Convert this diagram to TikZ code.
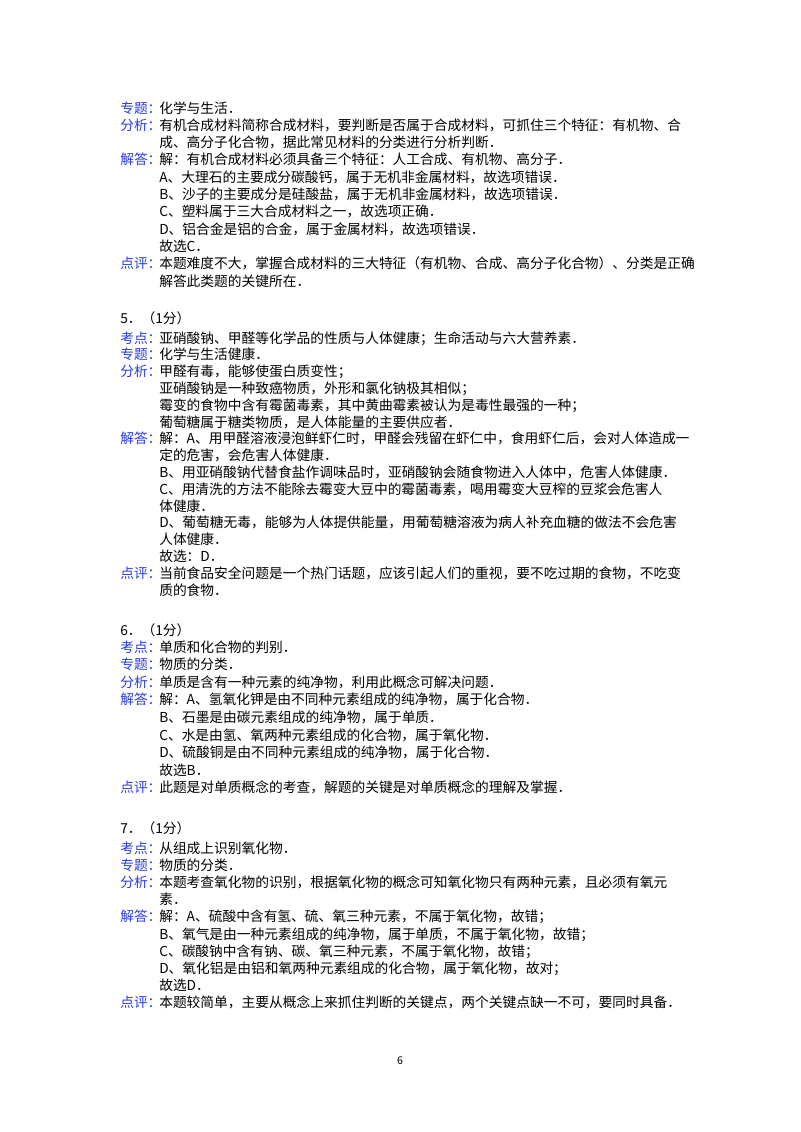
\documentclass[tikz,border=0pt]{standalone}
\usepackage{fontspec}
\setmainfont{Noto Sans CJK SC}
\begin{document}
\begin{tikzpicture}[x=0.75pt,y=-0.75pt,
  ln/.style={anchor=base west,inner sep=0pt,font=\fontsize{10.3}{12}\selectfont},
  lb/.style={ln,text={rgb,255:red,40;green,60;blue,230}}]
\useasboundingbox (0,0) rectangle (800,1132);
% block 4
\node[lb] (a1) at (120,113) {专题：};
\node[ln] (a1t) at (159,113) {化学与生活．};
\node[lb] (a2) at (120,130.3) {分析：};
\node[ln] (a2t) at (159,130.3) {有机合成材料简称合成材料，要判断是否属于合成材料，可抓住三个特征：有机物、合};
\node[ln] (a2u) at (159,147.6) {成、高分子化合物，据此常见材料的分类进行分析判断．};
\node[lb] (a3) at (120,164.9) {解答：};
\node[ln] (a3t) at (159,164.9) {解：有机合成材料必须具备三个特征：人工合成、有机物、高分子．};
\node[ln] (a3u) at (159,182.2) {A、大理石的主要成分碳酸钙，属于无机非金属材料，故选项错误．};
\node[ln] (a3v) at (159,199.5) {B、沙子的主要成分是硅酸盐，属于无机非金属材料，故选项错误．};
\node[ln] (a3w) at (159,216.8) {C、塑料属于三大合成材料之一，故选项正确．};
\node[ln] (a3x) at (159,234.1) {D、铝合金是铝的合金，属于金属材料，故选项错误．};
\node[ln] (a3y) at (159,251.4) {故选C．};
\node[lb] (a4) at (120,268.7) {点评：};
\node[ln] (a4t) at (159,268.7) {本题难度不大，掌握合成材料的三大特征（有机物、合成、高分子化合物）、分类是正确};
\node[ln] (a4u) at (159,286) {解答此类题的关键所在．};
% block 5
\node[ln] (b0) at (120,323) {5．（1分）};
\node[lb] (b1) at (120,343) {考点：};
\node[ln] (b1t) at (159,343) {亚硝酸钠、甲醛等化学品的性质与人体健康；生命活动与六大营养素．};
\node[lb] (b2) at (120,359.8) {专题：};
\node[ln] (b2t) at (159,359.8) {化学与生活健康．};
\node[lb] (b3) at (120,376.6) {分析：};
\node[ln] (b3t) at (159,376.6) {甲醛有毒，能够使蛋白质变性；};
\node[ln] (b3u) at (159,393.4) {亚硝酸钠是一种致癌物质，外形和氯化钠极其相似；};
\node[ln] (b3v) at (159,410.2) {霉变的食物中含有霉菌毒素，其中黄曲霉素被认为是毒性最强的一种；};
\node[ln] (b3w) at (159,427) {葡萄糖属于糖类物质，是人体能量的主要供应者．};
\node[lb] (b4) at (120,443.8) {解答：};
\node[ln] (b4t) at (159,443.8) {解：A、用甲醛溶液浸泡鲜虾仁时，甲醛会残留在虾仁中，食用虾仁后，会对人体造成一};
\node[ln] (b4u) at (159,460.6) {定的危害，会危害人体健康．};
\node[ln] (b4v) at (159,477.4) {B、用亚硝酸钠代替食盐作调味品时，亚硝酸钠会随食物进入人体中，危害人体健康．};
\node[ln] (b4w) at (159,494.2) {C、用清洗的方法不能除去霉变大豆中的霉菌毒素，喝用霉变大豆榨的豆浆会危害人};
\node[ln] (b4x) at (159,511) {体健康．};
\node[ln] (b4y) at (159,527.8) {D、葡萄糖无毒，能够为人体提供能量，用葡萄糖溶液为病人补充血糖的做法不会危害};
\node[ln] (b4z) at (159,544.6) {人体健康．};
\node[ln] (b4e) at (159,561.4) {故选：D．};
\node[lb] (b5) at (120,578.2) {点评：};
\node[ln] (b5t) at (159,578.2) {当前食品安全问题是一个热门话题，应该引起人们的重视，要不吃过期的食物，不吃变};
\node[ln] (b5u) at (159,595) {质的食物．};
% block 6
\node[ln] (c0) at (120,635) {6．（1分）};
\node[lb] (c1) at (120,652) {考点：};
\node[ln] (c1t) at (159,652) {单质和化合物的判别．};
\node[lb] (c2) at (120,669.6) {专题：};
\node[ln] (c2t) at (159,669.6) {物质的分类．};
\node[lb] (c3) at (120,687.2) {分析：};
\node[ln] (c3t) at (159,687.2) {单质是含有一种元素的纯净物，利用此概念可解决问题．};
\node[lb] (c4) at (120,704.8) {解答：};
\node[ln] (c4t) at (159,704.8) {解：A、氢氧化钾是由不同种元素组成的纯净物，属于化合物．};
\node[ln] (c4u) at (159,722.4) {B、石墨是由碳元素组成的纯净物，属于单质．};
\node[ln] (c4v) at (159,740) {C、水是由氢、氧两种元素组成的化合物，属于氧化物．};
\node[ln] (c4w) at (159,757.6) {D、硫酸铜是由不同种元素组成的纯净物，属于化合物．};
\node[ln] (c4x) at (159,775.2) {故选B．};
\node[lb] (c5) at (120,792.8) {点评：};
\node[ln] (c5t) at (159,792.8) {此题是对单质概念的考查，解题的关键是对单质概念的理解及掌握．};
% block 7
\node[ln] (d0) at (120,833) {7．（1分）};
\node[lb] (d1) at (120,853) {考点：};
\node[ln] (d1t) at (159,853) {从组成上识别氧化物．};
\node[lb] (d2) at (120,870.2) {专题：};
\node[ln] (d2t) at (159,870.2) {物质的分类．};
\node[lb] (d3) at (120,887.4) {分析：};
\node[ln] (d3t) at (159,887.4) {本题考查氧化物的识别，根据氧化物的概念可知氧化物只有两种元素，且必须有氧元};
\node[ln] (d3u) at (159,904.6) {素．};
\node[lb] (d4) at (120,921.8) {解答：};
\node[ln] (d4t) at (159,921.8) {解：A、硫酸中含有氢、硫、氧三种元素，不属于氧化物，故错；};
\node[ln] (d4u) at (159,939) {B、氧气是由一种元素组成的纯净物，属于单质，不属于氧化物，故错；};
\node[ln] (d4v) at (159,956.2) {C、碳酸钠中含有钠、碳、氧三种元素，不属于氧化物，故错；};
\node[ln] (d4w) at (159,973.4) {D、氧化铝是由铝和氧两种元素组成的化合物，属于氧化物，故对；};
\node[ln] (d4x) at (159,990.6) {故选D．};
\node[lb] (d5) at (120,1007.8) {点评：};
\node[ln] (d5t) at (159,1007.8) {本题较简单，主要从概念上来抓住判断的关键点，两个关键点缺一不可，要同时具备．};
\node[ln,font=\fontsize{8}{10}\selectfont,anchor=base] (pg) at (400,1064) {6};
\end{tikzpicture}
\end{document}
